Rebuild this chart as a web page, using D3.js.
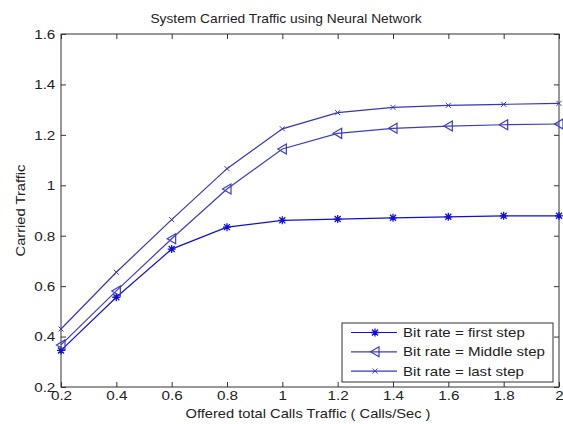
<!DOCTYPE html>
<html>
<head>
<meta charset="utf-8">
<script src="https://cdn.jsdelivr.net/npm/d3@7"></script>
<style>
  body { margin: 0; background: #fff; }
  text { font-family: "Liberation Sans", Arial, sans-serif; fill: #222; }
</style>
</head>
<body>
<svg id="chart" width="563" height="424"></svg>
<script>
// offered traffic (x) and the three carried traffic curves
const offered = [0.2, 0.4, 0.6, 0.8, 1.0, 1.2, 1.4, 1.6, 1.8, 2.0];
const firstStep = [0.345, 0.556, 0.747, 0.834, 0.861, 0.866, 0.871, 0.875, 0.879, 0.879];
const middleStep = [0.367, 0.581, 0.788, 0.985, 1.144, 1.206, 1.226, 1.235, 1.240, 1.243];
const lastStep = [0.430, 0.655, 0.864, 1.066, 1.224, 1.288, 1.309, 1.317, 1.321, 1.325];
const seriesNames = ["Bit rate = first step", "Bit rate = Middle step", "Bit rate = last step"];
const xTicks = [0.2, 0.4, 0.6, 0.8, 1, 1.2, 1.4, 1.6, 1.8, 2];
const yTicks = [0.2, 0.4, 0.6, 0.8, 1, 1.2, 1.4, 1.6];

const svg = d3.select("#chart");
const margin = { left: 61, right: 4, top: 34, bottom: 37 };
const W = 563, H = 424;
const sx = 1.13; // reference text is a bit wider than liberation sans

const x = d3.scaleLinear().domain([0.2, 2]).range([margin.left, W - margin.right]);
const y = d3.scaleLinear().domain([0.2, 1.6]).range([H - margin.bottom, margin.top]);

const series = [
  { name: seriesNames[0], values: firstStep, color: "#1010d8", marker: "star" },
  { name: seriesNames[1], values: middleStep, color: "#3c3cc4", marker: "tri" },
  { name: seriesNames[2], values: lastStep, color: "#3636c0", marker: "x" }
];

//plot frame
svg.append("rect")
  .attr("x", x(0.2)).attr("y", y(1.6))
  .attr("width", x(2) - x(0.2)).attr("height", y(0.2) - y(1.6))
  .attr("fill", "#fff").attr("stroke", "#333").attr("stroke-width", 1);

// ticks inward on all four sides (matlab style box)
const tickLen = 5;
svg.append("g").attr("transform", `translate(0,${y(0.2)})`)
  .call(d3.axisBottom(x).tickValues(xTicks).tickSizeInner(-tickLen).tickSizeOuter(0).tickPadding(3)
    .tickFormat(d3.format("")));
svg.append("g").attr("transform", `translate(${x(0.2)},0)`)
  .call(d3.axisLeft(y).tickValues(yTicks).tickSizeInner(-tickLen).tickSizeOuter(0).tickPadding(5)
    .tickFormat(d3.format("")));
svg.append("g").attr("transform", `translate(0,${y(1.6)})`)
  .call(d3.axisTop(x).tickValues(xTicks).tickSizeInner(-tickLen).tickSizeOuter(0).tickFormat(""));
svg.append("g").attr("transform", `translate(${x(2)},0)`)
  .call(d3.axisRight(y).tickValues(yTicks).tickSizeInner(-tickLen).tickSizeOuter(0).tickFormat(""));

svg.selectAll(".domain").remove();
svg.selectAll(".tick line").attr("stroke", "#333");
svg.selectAll(".tick text").attr("font-size", 13.5).attr("fill", "#222")
  .attr("transform", `scale(${sx},1)`);

// markers
function drawMarker(g, type, cx, cy, color) {
  if (type === "star") {
    g.append("path")
      .attr("d", `M${cx - 4},${cy}H${cx + 4}M${cx},${cy - 4}V${cy + 4}M${cx - 3},${cy - 3}L${cx + 3},${cy + 3}M${cx - 3},${cy + 3}L${cx + 3},${cy - 3}`)
      .attr("stroke", color).attr("stroke-width", 1.3).attr("fill", "none");
  } else if (type === "tri") {
    g.append("path")
      .attr("d", `M${cx - 4.5},${cy}L${cx + 4},${cy - 5}L${cx + 4},${cy + 5}Z`)
      .attr("stroke", color).attr("stroke-width", 1.2).attr("fill", "none");
  } else {
    g.append("path")
      .attr("d", `M${cx - 2.5},${cy - 2.5}L${cx + 2.5},${cy + 2.5}M${cx - 2.5},${cy + 2.5}L${cx + 2.5},${cy - 2.5}`)
      .attr("stroke", color).attr("stroke-width", 1).attr("fill", "none");
  }
}

const line = d3.line().x(d => x(d[0])).y(d => y(d[1]));

series.forEach(s => {
  const pts = offered.map((o, i) => [o, s.values[i]]);
  const g = svg.append("g");
  g.append("path").datum(pts)
    .attr("d", line)
    .attr("fill", "none").attr("stroke", s.color).attr("stroke-width", 1.2);
  pts.forEach(p => drawMarker(g, s.marker, x(p[0]), y(p[1]), s.color));
});

// title and axis labels
function label(tx, ty, str, rot, k) {
  svg.append("g").attr("transform", `translate(${tx},${ty}) rotate(${rot}) scale(${k},1)`)
    .append("text").attr("text-anchor", "middle").attr("font-size", 13)
    .text(str);
}
label(286, 23, "System Carried Traffic using Neural Network", 0, 1.06);
label(308, 418, "Offered total Calls Traffic ( Calls/Sec )", 0, sx);
label(25, (y(0.2) + y(1.6)) / 2, "Carried Traffic", -90, sx);

// legend
const legend = svg.append("g").attr("transform", "translate(342,323)");
legend.append("rect").attr("width", 211).attr("height", 59)
  .attr("fill", "#fff").attr("stroke", "#333");
series.forEach((s, i) => {
  const ly = 9.5 + i * 19.3;
  legend.append("line").attr("x1", 9).attr("x2", 55).attr("y1", ly).attr("y2", ly)
    .attr("stroke", s.color).attr("stroke-width", 1.2);
  drawMarker(legend, s.marker, 33, ly, s.color);
  legend.append("g").attr("transform", `translate(61,${ly + 4.5}) scale(1.16,1)`)
    .append("text").attr("font-size", 13)
    .text(s.name);
});
</script>
</body>
</html>
